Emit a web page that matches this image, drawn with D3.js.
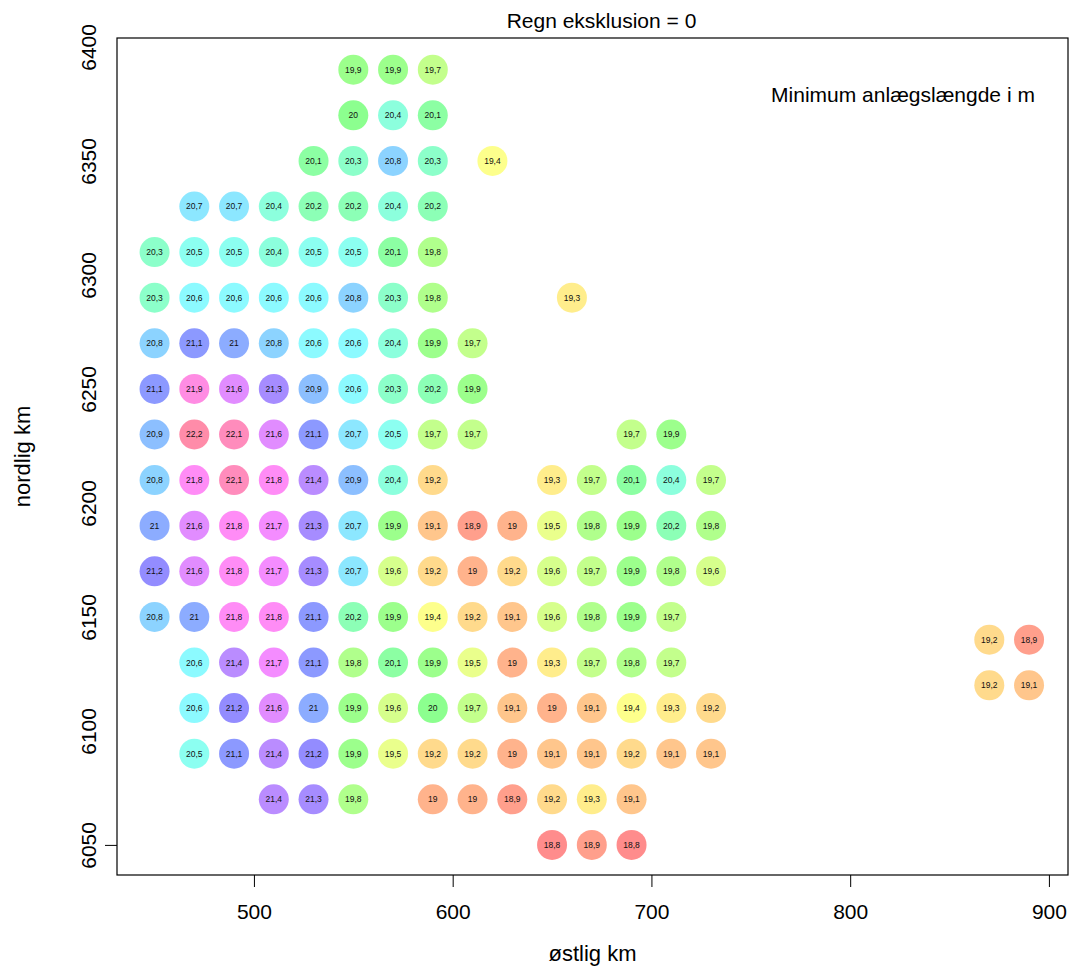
<!DOCTYPE html>
<html>
<head>
<meta charset="utf-8">
<script src="https://cdn.jsdelivr.net/npm/d3@7"></script>
<style>
  body { margin: 0; background: #fff; }
  text { font-family: "Liberation Sans", Arial, sans-serif; }
</style>
</head>
<body>
<svg width="1078" height="967"></svg>
<script>
// rows of the grid, north to south: northing, eastings, minimum lengths
var rowNorth = [6390, 6370, 6350, 6330, 6310, 6290, 6270, 6250, 6230, 6210, 6190, 6170, 6150, 6130, 6110, 6090, 6070, 6050, 6140, 6120];
var rowEast = [
    [550, 570, 590],
    [550, 570, 590],
    [530, 550, 570, 590, 620],
    [470, 490, 510, 530, 550, 570, 590],
    [450, 470, 490, 510, 530, 550, 570, 590],
    [450, 470, 490, 510, 530, 550, 570, 590, 660],
    [450, 470, 490, 510, 530, 550, 570, 590, 610],
    [450, 470, 490, 510, 530, 550, 570, 590, 610],
    [450, 470, 490, 510, 530, 550, 570, 590, 610, 690, 710],
    [450, 470, 490, 510, 530, 550, 570, 590, 650, 670, 690, 710, 730],
    [450, 470, 490, 510, 530, 550, 570, 590, 610, 630, 650, 670, 690, 710, 730],
    [450, 470, 490, 510, 530, 550, 570, 590, 610, 630, 650, 670, 690, 710, 730],
    [450, 470, 490, 510, 530, 550, 570, 590, 610, 630, 650, 670, 690, 710],
    [470, 490, 510, 530, 550, 570, 590, 610, 630, 650, 670, 690, 710],
    [470, 490, 510, 530, 550, 570, 590, 610, 630, 650, 670, 690, 710, 730],
    [470, 490, 510, 530, 550, 570, 590, 610, 630, 650, 670, 690, 710, 730],
    [510, 530, 550, 590, 610, 630, 650, 670, 690],
    [650, 670, 690],
    [870, 890],
    [870, 890]
];
var rowValues = [
    [19.9, 19.9, 19.7],
    [20, 20.4, 20.1],
    [20.1, 20.3, 20.8, 20.3, 19.4],
    [20.7, 20.7, 20.4, 20.2, 20.2, 20.4, 20.2],
    [20.3, 20.5, 20.5, 20.4, 20.5, 20.5, 20.1, 19.8],
    [20.3, 20.6, 20.6, 20.6, 20.6, 20.8, 20.3, 19.8, 19.3],
    [20.8, 21.1, 21, 20.8, 20.6, 20.6, 20.4, 19.9, 19.7],
    [21.1, 21.9, 21.6, 21.3, 20.9, 20.6, 20.3, 20.2, 19.9],
    [20.9, 22.2, 22.1, 21.6, 21.1, 20.7, 20.5, 19.7, 19.7, 19.7, 19.9],
    [20.8, 21.8, 22.1, 21.8, 21.4, 20.9, 20.4, 19.2, 19.3, 19.7, 20.1, 20.4, 19.7],
    [21, 21.6, 21.8, 21.7, 21.3, 20.7, 19.9, 19.1, 18.9, 19, 19.5, 19.8, 19.9, 20.2, 19.8],
    [21.2, 21.6, 21.8, 21.7, 21.3, 20.7, 19.6, 19.2, 19, 19.2, 19.6, 19.7, 19.9, 19.8, 19.6],
    [20.8, 21, 21.8, 21.8, 21.1, 20.2, 19.9, 19.4, 19.2, 19.1, 19.6, 19.8, 19.9, 19.7],
    [20.6, 21.4, 21.7, 21.1, 19.8, 20.1, 19.9, 19.5, 19, 19.3, 19.7, 19.8, 19.7],
    [20.6, 21.2, 21.6, 21, 19.9, 19.6, 20, 19.7, 19.1, 19, 19.1, 19.4, 19.3, 19.2],
    [20.5, 21.1, 21.4, 21.2, 19.9, 19.5, 19.2, 19.2, 19, 19.1, 19.1, 19.2, 19.1, 19.1],
    [21.4, 21.3, 19.8, 19, 19, 18.9, 19.2, 19.3, 19.1],
    [18.8, 18.9, 18.8],
    [19.2, 18.9],
    [19.2, 19.1]
];
var xTicks = [500, 600, 700, 800, 900];
var yTicks = [6050, 6100, 6150, 6200, 6250, 6300, 6350, 6400];

function main() {
    var svg = d3.select("svg");
    var left = 117, right = 1068, top = 38, bottom = 875;

    var xScale = d3.scaleLinear().domain([431.1, 909.6]).range([left, right]);
    var yScale = d3.scaleLinear().domain([6036.8, 6403.9]).range([bottom, top]);

    var points = [];
    rowNorth.forEach(function(n, i) {
        rowEast[i].forEach(function(e, j) {
            points.push({ e: e, n: n, v: rowValues[i][j] });
        });
    });

    var hue = d3.scaleLinear().domain([18.8, 22.2]).range([0, 345]);

    svg.selectAll(".pt")
        .data(points)
        .enter().append("circle")
        .attr("class", "pt")
        .attr("cx", function(d){ return xScale(d.e); })
        .attr("cy", function(d){ return yScale(d.n); })
        .attr("r", 15)
        .attr("fill", function(d){ return d3.hsl(hue(d.v), 1, 0.5); })
        .attr("fill-opacity", 0.45);

    svg.selectAll(".lab")
        .data(points)
        .enter().append("text")
        .attr("class", "lab")
        .attr("x", function(d){ return xScale(d.e); })
        .attr("y", function(d){ return yScale(d.n) + 3; })
        .attr("text-anchor", "middle")
        .attr("font-size", "8.5px")
        .attr("fill", "#111")
        .text(function(d){ return String(d.v).replace(".", ","); });

    // frame
    svg.append("rect")
        .attr("x", left).attr("y", top)
        .attr("width", right - left).attr("height", bottom - top)
        .attr("fill", "none").attr("stroke", "#000").attr("stroke-width", 1.2);

    var xAxis = svg.append("g").attr("transform", "translate(0," + bottom + ")")
        .call(d3.axisBottom(xScale).tickValues(xTicks).tickSize(12).tickPadding(17));
    xAxis.select(".domain").remove();
    xAxis.selectAll("text").attr("font-size", "21px").attr("fill", "#000")
        .attr("font-family", "Liberation Sans, Arial, sans-serif");

    var yAxis = svg.append("g").attr("transform", "translate(" + left + ",0)")
        .call(d3.axisLeft(yScale).tickValues(yTicks).tickFormat(d3.format("d")).tickSize(12).tickPadding(0));
    yAxis.select(".domain").remove();
    yAxis.selectAll(".tick line").attr("stroke-opacity", function(d){ return d === 6050 ? 1 : 0; });
    yAxis.selectAll("text")
        .attr("font-size", "21px").attr("fill", "#000")
        .attr("font-family", "Liberation Sans, Arial, sans-serif")
        .attr("text-anchor", "middle")
        .attr("x", 0).attr("dy", 0)
        .attr("transform", "translate(-21,0) rotate(-90)");

    svg.append("text")
        .attr("x", (left + right) / 2 + 9).attr("y", 28)
        .attr("text-anchor", "middle").attr("font-size", "21px")
        .text("Regn eksklusion = 0");

    svg.append("text")
        .attr("x", 903).attr("y", 102)
        .attr("text-anchor", "middle").attr("font-size", "21px")
        .text("Minimum anlægslængde i m");

    svg.append("text")
        .attr("x", (left + right) / 2).attr("y", 961)
        .attr("text-anchor", "middle").attr("font-size", "22px")
        .text("østlig km");

    svg.append("text")
        .attr("transform", "translate(30," + ((top + bottom) / 2) + ") rotate(-90)")
        .attr("text-anchor", "middle").attr("font-size", "22px")
        .text("nordlig km");
}

main();
</script>
</body>
</html>
